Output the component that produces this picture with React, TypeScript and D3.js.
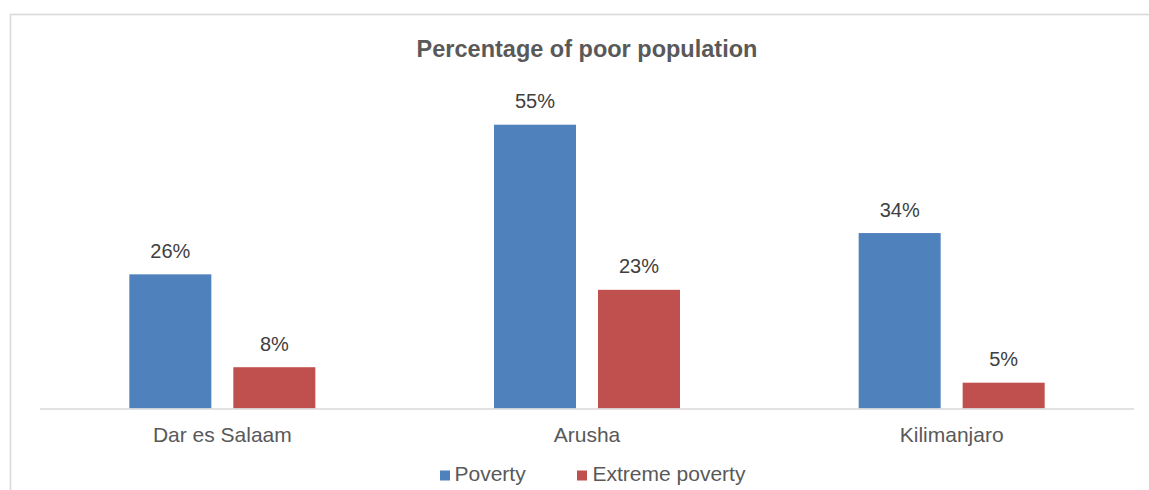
import React from "react";
import * as d3 from "d3";

const categories = ["Dar es Salaam", "Arusha", "Kilimanjaro"];
const seriesNames = ["Poverty", "Extreme poverty"];
const povertyValues = [0.26, 0.55, 0.34];
const extremeValues = [0.08, 0.23, 0.05];
const seriesColors = ["#4F81BD", "#C0504D"];
const title = "Percentage of poor population";

const W = 1149;
const H = 490;
const FONT = "'Liberation Sans', Arial, Helvetica, sans-serif";

export default function App() {
  const x0 = d3.scaleBand<string>().domain(categories).range([40, 1134]).padding(0);
  const groupW = 186;
  const x1 = d3.scaleBand<string>().domain(seriesNames).range([0, groupW]).paddingInner(0.2115).paddingOuter(0);
  const y = d3.scaleLinear().domain([0, 0.6]).range([408.5, 98.9]);
  const fmt = d3.format(".0%");
  const seriesValues = [povertyValues, extremeValues];

  return (
    <svg width={W} height={H} style={{ position: "absolute", left: 0, top: 0, background: "#fff" }}>
      <rect x={10.5} y={14.5} width={W + 20} height={H + 20} fill="#fff" stroke="#d9d9d9" strokeWidth={1.6} />
      <text x={587} y={56.5} textAnchor="middle" fontFamily={FONT} fontSize={23.5} fontWeight="bold" fill="#595959">
        {title}
      </text>
      {categories.map((c, i) => {
        const gx = x0(c)! + x0.bandwidth() / 2 - groupW / 2;
        return (
          <g key={c}>
            {seriesNames.map((s, j) => {
              const v = seriesValues[j][i];
              const bx = gx + x1(s)!;
              const by = y(v);
              return (
                <g key={s}>
                  <rect x={bx} y={by} width={x1.bandwidth()} height={y(0) - by} fill={seriesColors[j]} />
                  <text
                    x={bx + x1.bandwidth() / 2}
                    y={by - 16.5}
                    textAnchor="middle"
                    fontFamily={FONT}
                    fontSize={20}
                    fill="#404040"
                  >
                    {fmt(v)}
                  </text>
                </g>
              );
            })}
            <text
              x={x0(c)! + x0.bandwidth() / 2}
              y={441.5}
              textAnchor="middle"
              fontFamily={FONT}
              fontSize={21}
              fill="#595959"
            >
              {c}
            </text>
          </g>
        );
      })}
      <line x1={40} x2={1134} y1={409} y2={409} stroke="#d9d9d9" strokeWidth={1.6} />
      <g>
        <rect x={440} y={470.5} width={10} height={10} fill={seriesColors[0]} />
        <text x={454.5} y={480.5} fontFamily={FONT} fontSize={21} fill="#595959">
          {seriesNames[0]}
        </text>
        <rect x={577} y={470.5} width={10} height={10} fill={seriesColors[1]} />
        <text x={592.5} y={480.5} fontFamily={FONT} fontSize={21} fill="#595959">
          {seriesNames[1]}
        </text>
      </g>
    </svg>
  );
}
